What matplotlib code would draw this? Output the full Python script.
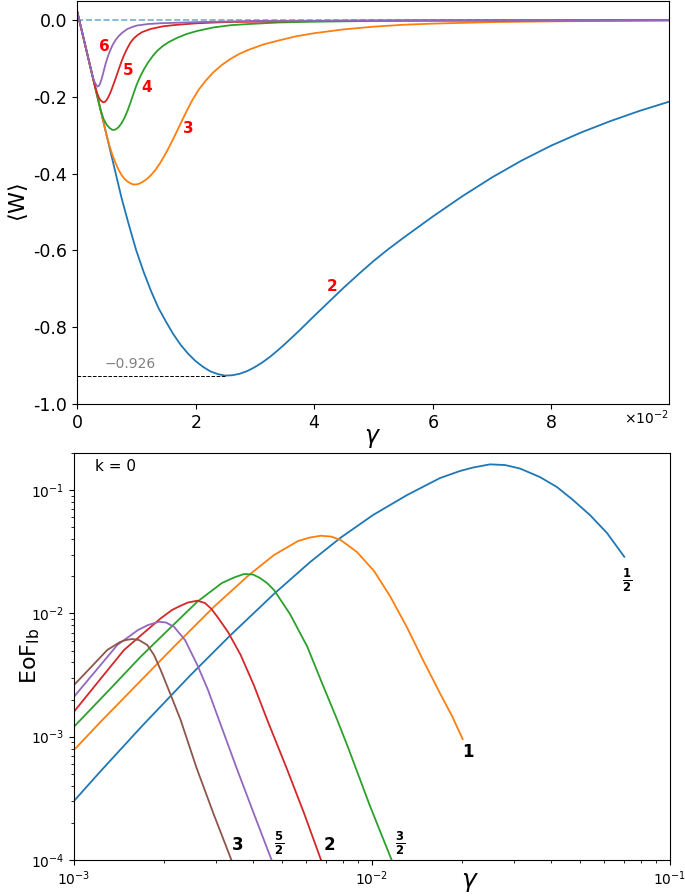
import numpy as np
import matplotlib
matplotlib.use("Agg")
import matplotlib.pyplot as plt

plt.rcParams['axes.unicode_minus'] = False

# top panel: <W> vs gamma (gamma in units of 1e-2)
g_n2 = [0, 0.125, 0.25, 0.375, 0.5, 0.625, 0.75, 0.875, 1.0, 1.125, 1.25, 1.375, 1.5,
        1.625, 1.75, 1.875, 2.0, 2.125, 2.25, 2.375, 2.5, 2.625, 2.75, 2.875, 3.0, 3.125,
        3.25, 3.375, 3.5, 3.625, 3.75, 3.875, 4.0, 4.25, 4.5, 4.75, 5.0, 5.25, 5.5, 5.75,
        6.0, 6.5, 7.0, 7.5, 8.0, 8.5, 9.0, 9.5, 10.0]
w_n2 = [0.025, -0.056, -0.138, -0.219, -0.30, -0.381, -0.462, -0.533, -0.600, -0.656,
        -0.706, -0.750, -0.785, -0.818, -0.846, -0.869, -0.888, -0.903, -0.915, -0.922,
        -0.926, -0.925, -0.921, -0.914, -0.904, -0.892, -0.878, -0.862, -0.845, -0.827,
        -0.809, -0.790, -0.771, -0.734, -0.697, -0.662, -0.628, -0.597, -0.568, -0.540,
        -0.512, -0.459, -0.410, -0.366, -0.327, -0.293, -0.263, -0.236, -0.212]

g_n3 = [0, 0.25, 0.5, 0.55, 0.6, 0.65, 0.7, 0.75, 0.8, 0.85, 0.9, 0.95, 1.0, 1.05, 1.1,
        1.17, 1.24, 1.32, 1.4, 1.48, 1.56, 1.65, 1.74, 1.84, 1.94, 2.05, 2.17, 2.3, 2.45,
        2.6, 2.75, 2.9, 3.15, 3.4, 3.7, 4.0, 4.5, 5.0, 5.5, 6.0, 7.0, 8.0, 9.0, 10.0]
w_n3 = [0.025, -0.138, -0.300, -0.328, -0.352, -0.372, -0.389, -0.403, -0.413, -0.420,
        -0.425, -0.428, -0.428, -0.426, -0.422, -0.415, -0.405, -0.391, -0.373, -0.352,
        -0.329, -0.301, -0.272, -0.240, -0.210, -0.182, -0.158, -0.136, -0.116, -0.100,
        -0.087, -0.077, -0.063, -0.053, -0.042, -0.034, -0.024, -0.017, -0.012, -0.009,
        -0.005, -0.003, -0.002, -0.001]

g_n4 = [0, 0.25, 0.4, 0.45, 0.5, 0.55, 0.6, 0.65, 0.7, 0.75, 0.8, 0.85, 0.9, 0.95, 1.0,
        1.06, 1.13, 1.2, 1.28, 1.36, 1.45, 1.55, 1.69, 1.85, 2.03, 2.3, 2.6, 2.9, 3.4, 4.0,
        5.0, 6.0, 10.0]
w_n4 = [0.025, -0.138, -0.235, -0.258, -0.272, -0.281, -0.286, -0.285, -0.279, -0.269,
        -0.255, -0.237, -0.216, -0.193, -0.171, -0.149, -0.128, -0.110, -0.093, -0.079,
        -0.067, -0.057, -0.046, -0.036, -0.028, -0.019, -0.013, -0.010, -0.006, -0.004,
        -0.002, -0.001, 0.0]

g_n5 = [0, 0.25, 0.3, 0.34, 0.37, 0.4, 0.44, 0.47, 0.5, 0.53, 0.56, 0.6, 0.64, 0.68, 0.72,
        0.76, 0.8, 0.85, 0.9, 0.96, 1.03, 1.1, 1.24, 1.45, 1.69, 2.03, 2.5, 3.0, 4.0, 5.0, 10.0]
w_n5 = [0.025, -0.138, -0.170, -0.190, -0.202, -0.209, -0.214, -0.213, -0.208, -0.200,
        -0.190, -0.174, -0.157, -0.139, -0.121, -0.104, -0.089, -0.073, -0.059, -0.047,
        -0.038, -0.031, -0.023, -0.016, -0.012, -0.008, -0.005, -0.004, -0.002, -0.001, 0.0]

g_n6 = [0, 0.25, 0.28, 0.31, 0.33, 0.35, 0.37, 0.39, 0.42, 0.45, 0.48, 0.52, 0.56, 0.6,
        0.65, 0.7, 0.76, 0.85, 0.93, 1.01, 1.2, 1.41, 2.03, 3.0, 5.0, 10.0]
w_n6 = [0.025, -0.138, -0.155, -0.165, -0.170, -0.173, -0.171, -0.165, -0.151, -0.133,
        -0.115, -0.095, -0.079, -0.065, -0.052, -0.042, -0.033, -0.023, -0.018, -0.014,
        -0.010, -0.008, -0.005, -0.002, -0.001, 0.0]

top_labels = ['2', '3', '4', '5', '6']
top_label_g = [4.3, 1.88, 1.18, 0.87, 0.47]
top_label_w = [-0.693, -0.282, -0.175, -0.131, -0.068]
w_min = -0.926
g_min = 2.5

# bottom panel: EoF_lb vs gamma (log-log), one curve per j
g_j05 = [1.0e-3, 1.222e-3, 1.695e-3, 2.45e-3, 3.356e-3, 4.69e-3, 6.19e-3, 7.852e-3,
         1.008e-2, 1.311e-2, 1.691e-2, 1.973e-2, 2.182e-2, 2.489e-2, 2.794e-2, 3.138e-2,
         3.663e-2, 4.176e-2, 4.725e-2, 5.388e-2, 6.146e-2, 7.025e-2]
e_j05 = [3.01e-4, 5.18e-4, 1.226e-3, 3.125e-3, 6.68e-3, 1.439e-2, 2.601e-2, 4.119e-2,
         6.28e-2, 9.12e-2, 0.1253, 0.1429, 0.1525, 0.1618, 0.1598, 0.1497,
         0.1276, 0.1059, 0.0832, 0.0628, 0.0449, 0.0288]

g_j1 = [1.0e-3, 1.245e-3, 1.665e-3, 2.165e-3, 2.95e-3, 3.865e-3, 4.69e-3, 5.645e-3,
        6.19e-3, 6.729e-3, 7.285e-3, 7.852e-3, 8.906e-3, 1.016e-2, 1.149e-2, 1.307e-2,
        1.483e-2, 1.691e-2, 1.856e-2, 2.015e-2]
e_j1 = [7.8e-4, 1.366e-3, 2.804e-3, 5.37e-3, 1.133e-2, 2.048e-2, 2.976e-2, 3.864e-2,
        4.126e-2, 4.266e-2, 4.203e-2, 3.936e-2, 3.148e-2, 2.207e-2, 1.384e-2, 7.8e-3,
        4.19e-3, 2.25e-3, 1.472e-3, 9.57e-4]

g_j15 = [1.0e-3, 1.321e-3, 1.674e-3, 2.099e-3, 2.594e-3, 3.137e-3, 3.443e-3, 3.719e-3,
         3.988e-3, 4.208e-3, 4.442e-3, 4.69e-3, 5.306e-3, 6.066e-3, 6.796e-3, 7.648e-3,
         8.325e-3, 9.847e-3, 1.164e-2]
e_j15 = [1.205e-3, 2.432e-3, 4.457e-3, 7.59e-3, 1.245e-2, 1.765e-2, 1.955e-2, 2.087e-2,
         2.068e-2, 1.937e-2, 1.765e-2, 1.549e-2, 9.89e-3, 5.37e-3, 2.725e-3, 1.366e-3,
         8.1e-4, 2.74e-4, 1.0e-4]

g_j2 = [1.0e-3, 1.222e-3, 1.472e-3, 1.691e-3, 1.954e-3, 2.133e-3, 2.268e-3, 2.413e-3,
        2.594e-3, 2.752e-3, 2.882e-3, 3.027e-3, 3.287e-3, 3.625e-3, 4.018e-3, 4.452e-3,
        5.173e-3, 5.912e-3, 6.745e-3]
e_j2 = [1.595e-3, 2.904e-3, 5.05e-3, 6.75e-3, 9.12e-3, 1.066e-2, 1.148e-2, 1.226e-2,
        1.268e-2, 1.214e-2, 1.096e-2, 9.4e-3, 7.07e-3, 4.6e-3, 2.602e-3, 1.366e-3,
        5.54e-4, 2.405e-4, 1.0e-4]

g_j25 = [1.0e-3, 1.185e-3, 1.397e-3, 1.64e-3, 1.771e-3, 1.928e-3, 2.035e-3, 2.165e-3,
         2.358e-3, 2.594e-3, 2.817e-3, 3.066e-3, 3.516e-3, 4.018e-3, 4.604e-3]
e_j25 = [2.11e-3, 3.44e-3, 5.54e-3, 7.33e-3, 8.05e-3, 8.56e-3, 8.44e-3, 7.8e-3,
         6.085e-3, 3.815e-3, 2.392e-3, 1.366e-3, 5.54e-4, 2.36e-4, 1.0e-4]

g_j3 = [1.0e-3, 1.132e-3, 1.293e-3, 1.427e-3, 1.494e-3, 1.569e-3, 1.652e-3, 1.762e-3,
        1.856e-3, 1.954e-3, 2.099e-3, 2.28e-3, 2.581e-3, 2.95e-3, 3.375e-3]
e_j3 = [2.626e-3, 3.593e-3, 5.05e-3, 5.86e-3, 6.085e-3, 6.2e-3, 6.085e-3, 5.54e-3,
        4.6e-3, 3.475e-3, 2.262e-3, 1.366e-3, 5.54e-4, 2.317e-4, 1.0e-4]

bot_labels = [r'$\mathbf{\frac{1}{2}}$', r'$\mathbf{1}$', r'$\mathbf{\frac{3}{2}}$',
              r'$\mathbf{2}$', r'$\mathbf{\frac{5}{2}}$', r'$\mathbf{3}$']
bot_label_g = [0.0717, 0.0210, 0.01242, 0.00717, 0.00488, 0.00352]
bot_label_e = [0.0187, 7.5e-4, 1.37e-4, 1.32e-4, 1.37e-4, 1.32e-4]

fig = plt.figure(figsize=(6.85, 8.96), dpi=100)

# ---- top ----
ax1 = fig.add_axes([0.1124, 0.5491, 0.8642, 0.4498])
ax1.axhline(0, color='C0', ls='--', lw=1.2, alpha=0.6)
top_g = [g_n2, g_n3, g_n4, g_n5, g_n6]
top_w = [w_n2, w_n3, w_n4, w_n5, w_n6]
for i in range(5):
    ax1.plot(np.array(top_g[i]) * 1e-2, top_w[i], color='C%d' % i, lw=1.3)
for lab, gx, wy in zip(top_labels, top_label_g, top_label_w):
    ax1.text(gx * 1e-2, wy, lab, color='red', fontweight='bold', fontsize=11,
             ha='center', va='center')
ax1.hlines(w_min, 0, g_min * 1e-2, colors='k', linestyles='--', lw=0.7)
ax1.text(0.46e-2, w_min + 0.012, '\u22120.926', color='gray', fontsize=10,
         ha='left', va='bottom')
ax1.set_xlim(0, 0.0999)
ax1.set_ylim(-1.0, 0.05)
ax1.set_yticks([0.0, -0.2, -0.4, -0.6, -0.8, -1.0])
ax1.ticklabel_format(style='sci', axis='x', scilimits=(0, 0), useMathText=True)
ax1.xaxis.get_offset_text().set_visible(False)
ax1.text(1.0, -0.012, r'$\times\mathdefault{10^{-2}}$', transform=ax1.transAxes,
         ha='right', va='top', fontsize=10)
ax1.tick_params(labelsize=12.5)
ax1.set_xlabel(r'$\gamma$', fontsize=17, labelpad=-4)
ax1.set_ylabel(r'$\langle \mathrm{W} \rangle$', fontsize=16)
ax1.yaxis.set_label_coords(-0.08, 0.5)

# ---- bottom ----
ax2 = fig.add_axes([0.1080, 0.0402, 0.8701, 0.4542])
bot_g = [g_j05, g_j1, g_j15, g_j2, g_j25, g_j3]
bot_e = [e_j05, e_j1, e_j15, e_j2, e_j25, e_j3]
for i in range(6):
    ax2.plot(bot_g[i], bot_e[i], color='C%d' % i, lw=1.3)
for lab, gx, ey in zip(bot_labels, bot_label_g, bot_label_e):
    ax2.text(gx, ey, lab, color='black', fontsize=12, ha='center', va='center')
ax2.set_xscale('log')
ax2.set_yscale('log')
ax2.set_xlim(1e-3, 1e-1)
ax2.set_ylim(1e-4, 0.2)
ax2.tick_params(labelsize=10)
ax2.text(0.035, 0.985, 'k = 0', transform=ax2.transAxes, fontsize=11, va='top', ha='left')
ax2.set_xlabel(r'$\gamma$', fontsize=18)
ax2.xaxis.set_label_coords(0.664, -0.025)
ax2.set_ylabel(r'$\mathrm{EoF_{lb}}$', fontsize=16)
ax2.yaxis.set_label_coords(-0.054, 0.5)

fig.savefig('out.png', dpi=100)
